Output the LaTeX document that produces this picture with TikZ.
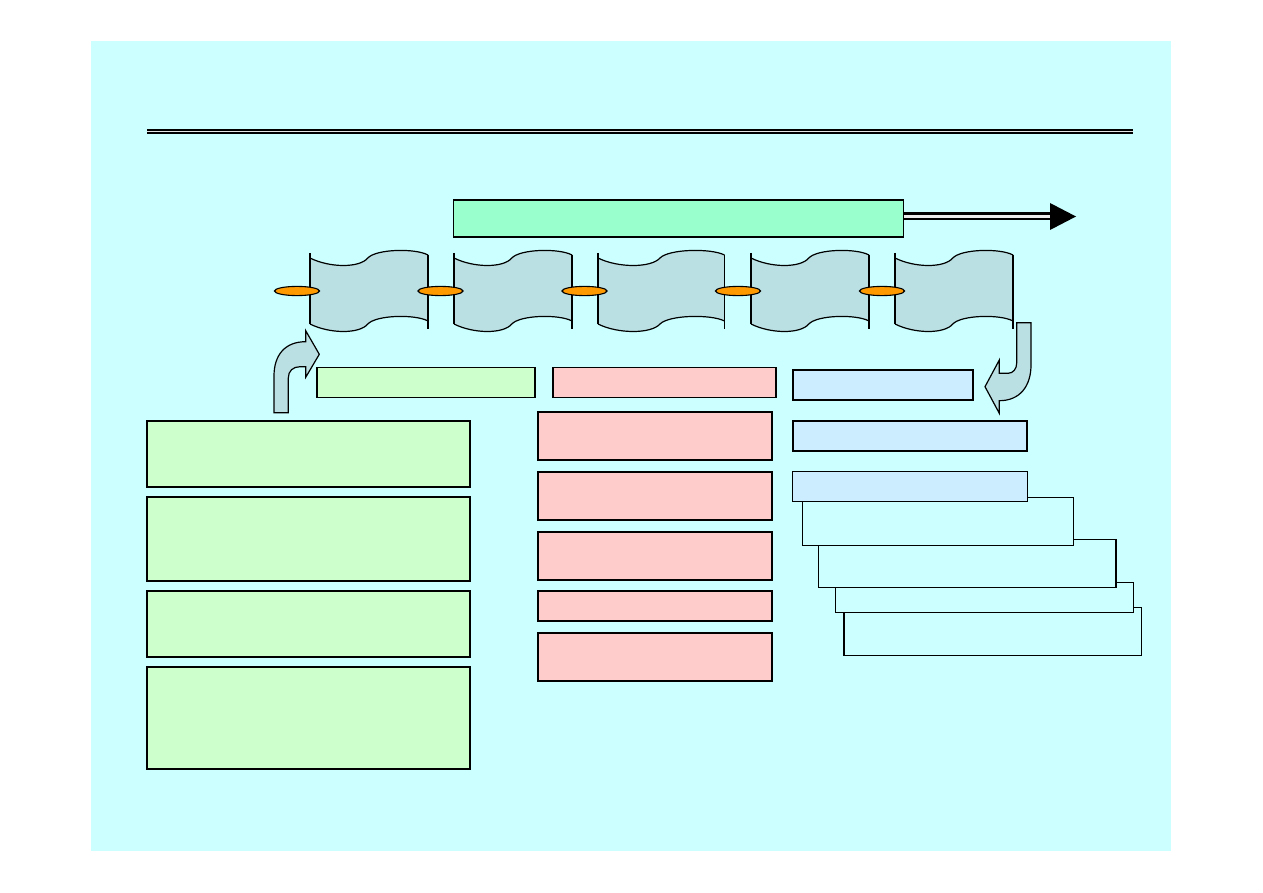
\documentclass[tikz,border=0pt]{standalone}
\begin{document}
\begin{tikzpicture}[x=1pt,y=-1pt,line join=miter,
  box/.style={draw=black,line width=1.2pt},
  ol/.style={draw=black,line width=1.2pt}]
\definecolor{bgc}{HTML}{CCFFFF}
\definecolor{barc}{HTML}{99FFCC}
\definecolor{greenc}{HTML}{CCFFCC}
\definecolor{pinkc}{HTML}{FFCCCC}
\definecolor{bluec}{HTML}{CCECFF}
\definecolor{scrollc}{HTML}{BBE0E3}
\definecolor{orangec}{HTML}{FF9900}
\useasboundingbox (0,0) rectangle (1263,893);
\fill[white] (0,0) rectangle (1263,893);
\fill[bgc] (91,41) rectangle (1171,851);
% title rule
\coordinate (rl) at (147,131.5); \coordinate (rr) at (1133,131.5);
\draw[black,line width=4.6pt] (rl) -- (rr);
\draw[white!80!gray,line width=1.1pt] (rl) -- (rr);
% green top bar + arrow
\node[box,fill=barc,minimum width=450pt,minimum height=37pt,inner sep=0pt,anchor=north west] (bar) at (453,199.5) {};
\coordinate (ah) at (1050,216.5);
\draw[black,line width=8pt] (bar.east |- ah) -- (ah);
\draw[white!85!gray,line width=2.6pt] (bar.east |- ah) -- (ah);
\fill[black] (1050,203) -- (1076,216.5) -- (1050,230) -- cycle;
% scrolls
\foreach \L/\W in {310/118,454/118,598/126.5,751/118,895/118}{
  \fill[scrollc] (\L,258) .. controls (\L+20,268) and (\L+0.42*\W,268) .. (\L+0.49*\W,258)
     .. controls (\L+0.56*\W,249) and (\L+0.89*\W,248) .. (\L+\W,255)
     -- (\L+\W,321) .. controls (\L+0.89*\W,314) and (\L+0.56*\W,315) .. (\L+0.49*\W,324)
     .. controls (\L+0.42*\W,334) and (\L+20,334) .. (\L,324) -- cycle;
  \draw[line width=1.2pt] (\L,258) .. controls (\L+20,268) and (\L+0.42*\W,268) .. (\L+0.49*\W,258)
     .. controls (\L+0.56*\W,249) and (\L+0.89*\W,248) .. (\L+\W,255);
  \draw[line width=1.2pt] (\L,324) .. controls (\L+20,334) and (\L+0.42*\W,334) .. (\L+0.49*\W,324)
     .. controls (\L+0.56*\W,315) and (\L+0.89*\W,314) .. (\L+\W,321);
  \draw[line width=1.2pt] (\L,253) -- (\L,324);
  \draw[line width=1.2pt] (\L+\W,255) -- (\L+\W,329);
}
% orange links
\foreach \c in {297,440.5,584.5,738,882}{
  \draw[fill=orangec,line width=1.1pt] (\c,291) ellipse [x radius=22.5pt,y radius=4.6pt];
}
% bent arrow up-right
\draw[ol,fill=scrollc] (274,412.7) -- (274,376) .. controls (274,355) and (285,341.7) .. (305.7,341.7)
  -- (305.7,330.7) -- (319.3,354.3) -- (305.7,377.3) -- (305.7,366.7) -- (300,366.7)
  .. controls (293,366.7) and (288.3,371) .. (288.3,378) -- (288.3,412.7) -- cycle;
% bent arrow down-left
\draw[ol,fill=scrollc] (1016.7,322.7) -- (1031,322.7) -- (1031,365) .. controls (1031,386) and (1020,400.7) .. (999.3,400.7)
  -- (999.3,413.3) -- (985,386.7) -- (999.3,360) -- (999.3,373.3) -- (1008,373.3)
  .. controls (1013,373.3) and (1016.7,369) .. (1016.7,363) -- cycle;
% header bars
\draw[box,fill=greenc] (317,367.5) rectangle (535,397.5);
\draw[box,fill=pinkc] (553,367.5) rectangle (776,397.5);
\draw[box,fill=bluec] (793,370) rectangle (973,400);
% green column
\draw[box,fill=greenc] (147,421) rectangle (470,487);
\draw[box,fill=greenc] (147,497) rectangle (470,581);
\draw[box,fill=greenc] (147,591) rectangle (470,657);
\draw[box,fill=greenc] (147,667) rectangle (470,769);
% pink column
\draw[box,fill=pinkc] (538,412) rectangle (772,460);
\draw[box,fill=pinkc] (538,472) rectangle (772,520);
\draw[box,fill=pinkc] (538,532) rectangle (772,580);
\draw[box,fill=pinkc] (538,591) rectangle (772,621);
\draw[box,fill=pinkc] (538,633) rectangle (772,681);
% blue column + stacked boxes
\draw[box,fill=bluec] (793,421) rectangle (1027,451);
\draw[box,fill=bgc] (844,607.7) rectangle (1141.7,655.7);
\draw[box,fill=bgc] (835.7,582.3) rectangle (1133.3,612.3);
\draw[box,fill=bgc] (818.3,539.3) rectangle (1116,587.7);
\draw[box,fill=bgc] (802.7,497.3) rectangle (1073.7,545.3);
\draw[box,fill=bluec] (792.7,471.7) rectangle (1027.3,501.7);
\end{tikzpicture}
\end{document}
